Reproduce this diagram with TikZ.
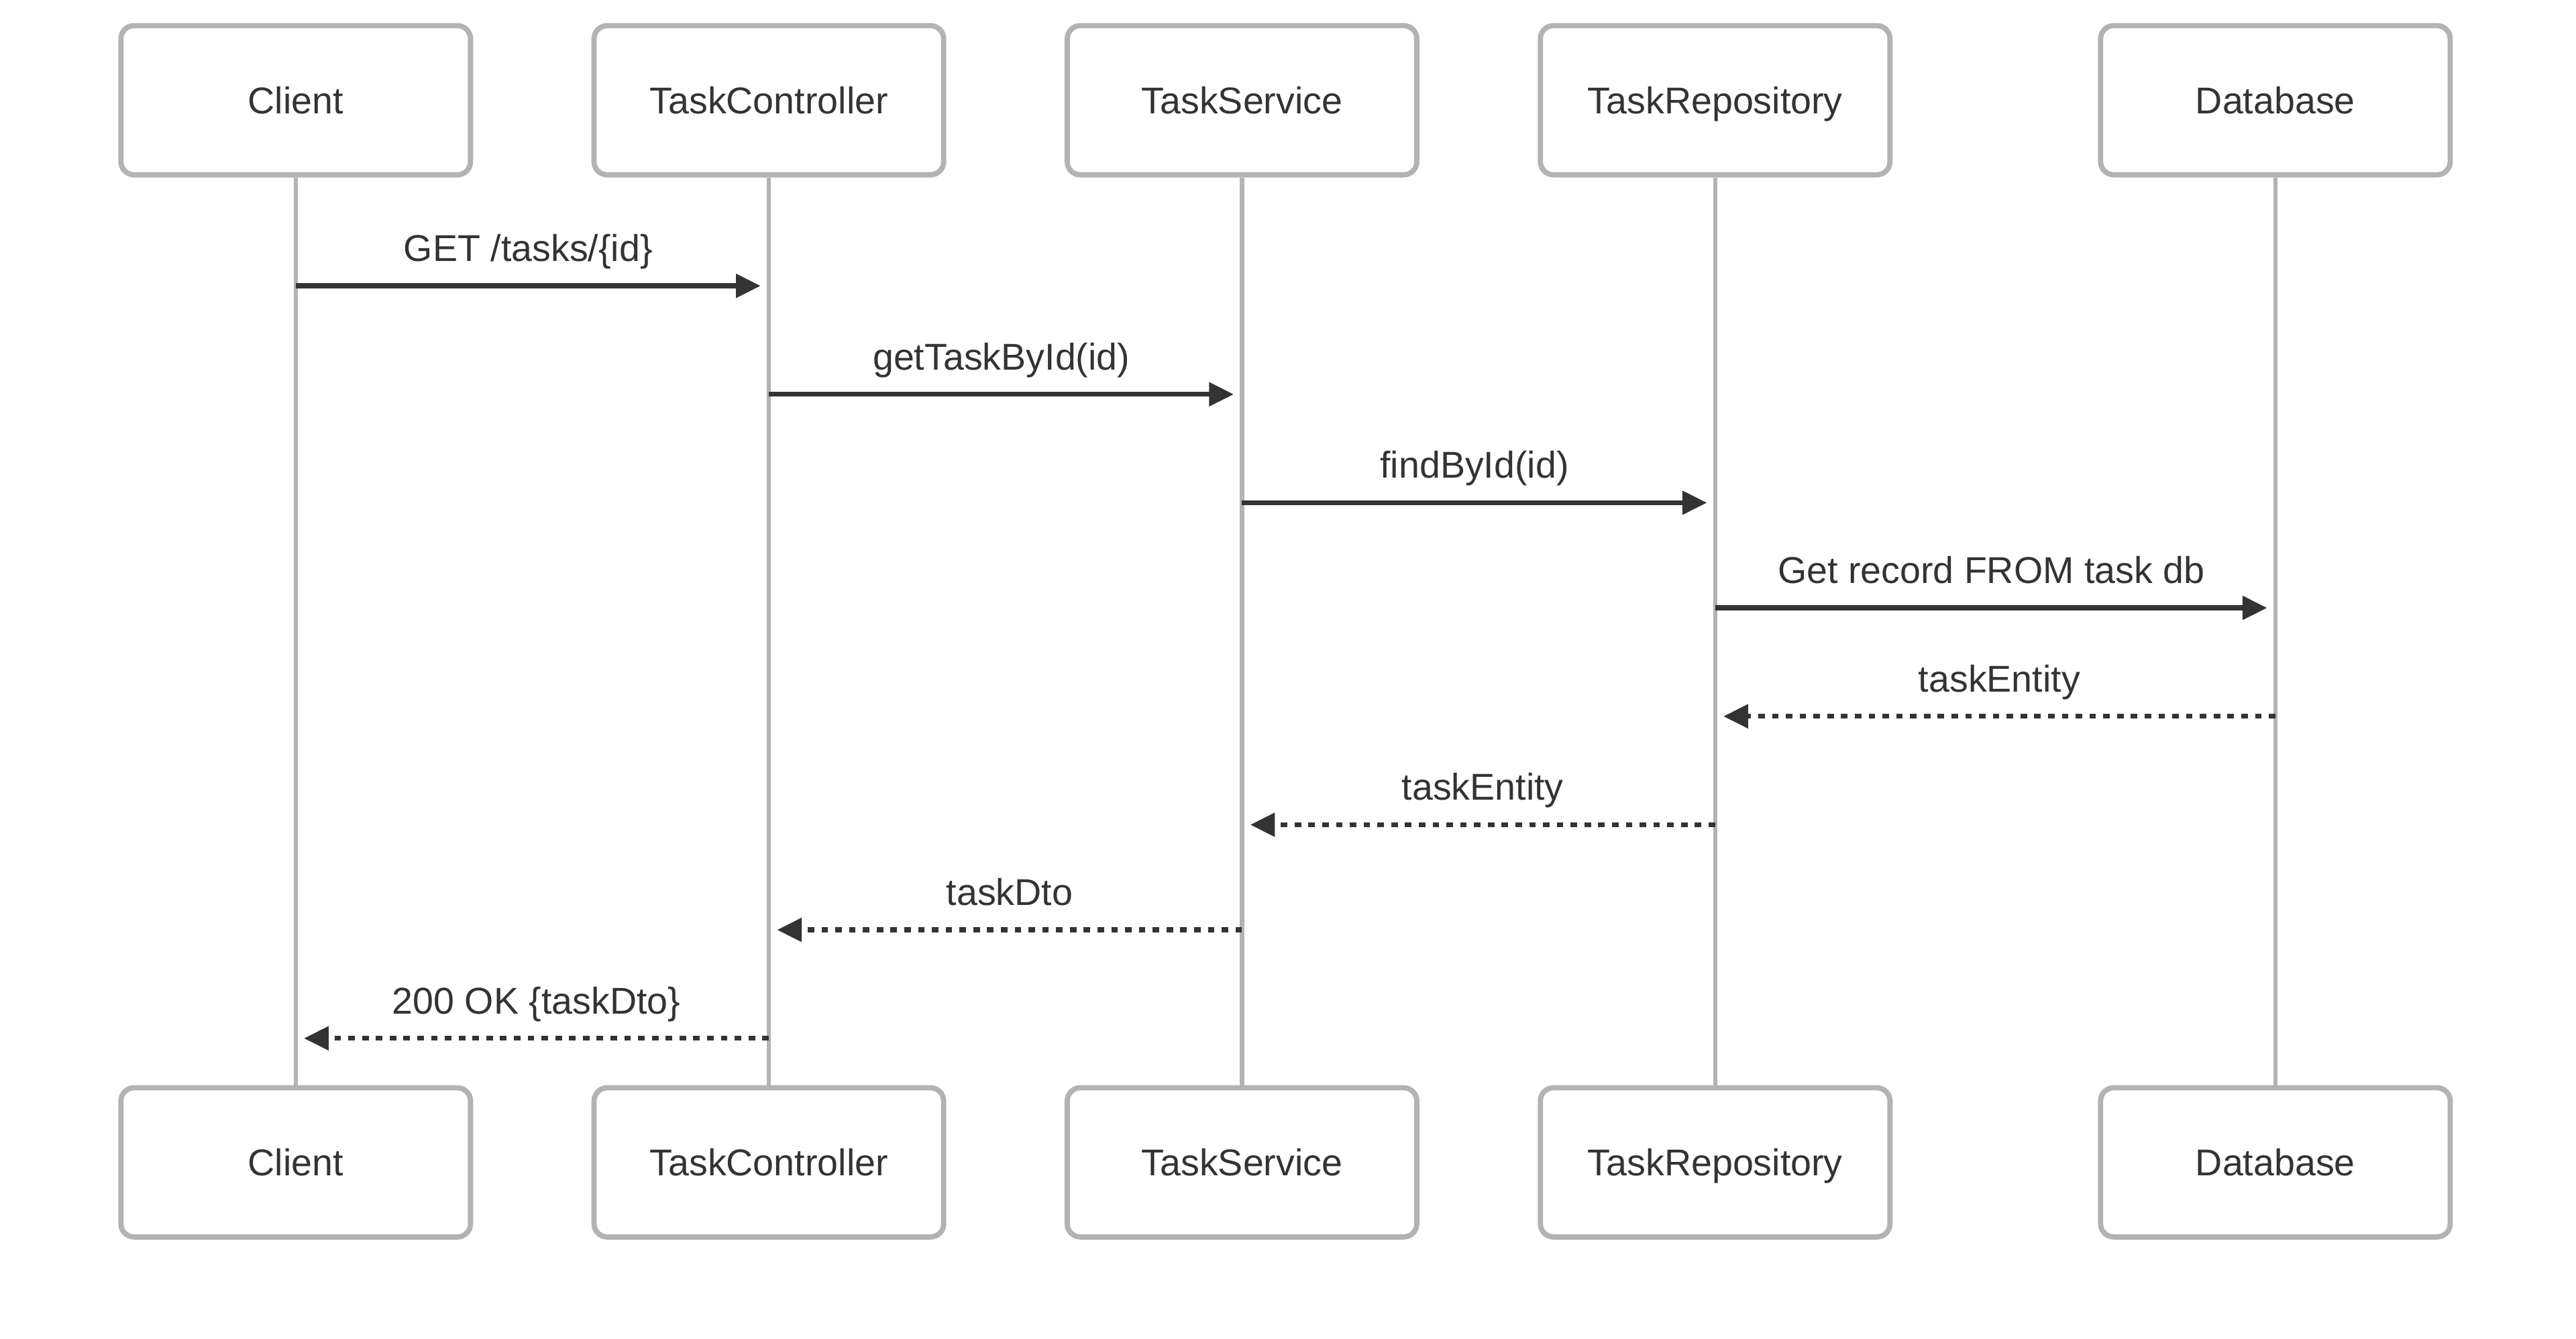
\documentclass[tikz,border=0pt]{standalone}
\usepackage{fontspec}
\setmainfont{Liberation Sans}
\usetikzlibrary{arrows.meta,calc}
\definecolor{boxgray}{HTML}{B3B3B3}
\definecolor{ink}{HTML}{333333}

\begin{document}
\begin{tikzpicture}[x=0.5pt,y=-0.5pt,
  labelfont/.style={font=\fontsize{11.35}{13.6}\selectfont, text=ink},
  actor/.style={draw=boxgray, line width=1.6pt, rounded corners=4pt,
    fill=white, minimum width=106.4pt, minimum height=45.4pt, inner sep=0pt,
    labelfont, text height=8.1pt, text depth=0pt},
  lifeline/.style={draw=boxgray, line width=1.25pt},
  msg/.style={draw=ink, line width=1.5pt, -{Triangle[length=7.5pt,width=7pt]}},
  reply/.style={msg, dash pattern=on 2pt off 2.2pt},
  lbl/.style={labelfont, anchor=base, yshift=7.5pt, inner sep=0pt}]

  % page frame
  \useasboundingbox (0,0) rectangle (1568,815);

  % lifelines (drawn first, the boxes sit on top)
  \coordinate (lc)  at (180,61);   \coordinate (lcb)  at (180,707.5);
  \coordinate (lt)  at (468,61);   \coordinate (ltb)  at (468,707.5);
  \coordinate (ls)  at (756,61);   \coordinate (lsb)  at (756,707.5);
  \coordinate (lr)  at (1044,61);  \coordinate (lrb)  at (1044,707.5);
  \coordinate (ld)  at (1385,61);  \coordinate (ldb)  at (1385,707.5);

  % participants, head and foot
  \node[actor] (cl)  at (lc) {Client};
  \node[actor] (ct)  at (lt) {TaskController};
  \node[actor] (sv)  at (ls) {TaskService};
  \node[actor] (rp)  at (lr) {TaskRepository};
  \node[actor] (db)  at (ld) {Database};

  \node[actor] (clb) at (lcb) {Client};
  \node[actor] (ctb) at (ltb) {TaskController};
  \node[actor] (svb) at (lsb) {TaskService};
  \node[actor] (rpb) at (lrb) {TaskRepository};
  \node[actor] (dbb) at (ldb) {Database};

  \draw[lifeline] (cl) -- (clb);
  \draw[lifeline] (ct) -- (ctb);
  \draw[lifeline] (sv) -- (svb);
  \draw[lifeline] (rp) -- (rpb);
  \draw[lifeline] (db) -- (dbb);

  % message rows
  \coordinate (r1) at (0,174);
  \coordinate (r2) at (0,240);
  \coordinate (r3) at (0,306);
  \coordinate (r4) at (0,370);
  \coordinate (r5) at (0,436);
  \coordinate (r6) at (0,502);
  \coordinate (r7) at (0,566);
  \coordinate (r8) at (0,632);

  % requests
  \draw[msg] (cl |- r1) -- ($(ct |- r1)+(-2.5pt,0)$)
    node[lbl, midway] {GET /tasks/\{id\}};
  \draw[msg] (ct |- r2) -- ($(sv |- r2)+(-2.5pt,0)$)
    node[lbl, midway] {getTaskById(id)};
  \draw[msg] (sv |- r3) -- ($(rp |- r3)+(-2.5pt,0)$)
    node[lbl, midway] {findById(id)};
  \draw[msg] (rp |- r4) -- ($(db |- r4)+(-2.5pt,0)$)
    node[lbl, midway] {Get record FROM task db};

  % replies
  \draw[reply] (db |- r5) -- ($(rp |- r5)+(2.5pt,0)$)
    node[lbl, midway] {taskEntity};
  \draw[reply] (rp |- r6) -- ($(sv |- r6)+(2.5pt,0)$)
    node[lbl, midway] {taskEntity};
  \draw[reply] (sv |- r7) -- ($(ct |- r7)+(2.5pt,0)$)
    node[lbl, midway] {taskDto};
  \draw[reply] (ct |- r8) -- ($(cl |- r8)+(2.5pt,0)$)
    node[lbl, midway] {200 OK \{taskDto\}};
\end{tikzpicture}
\end{document}
